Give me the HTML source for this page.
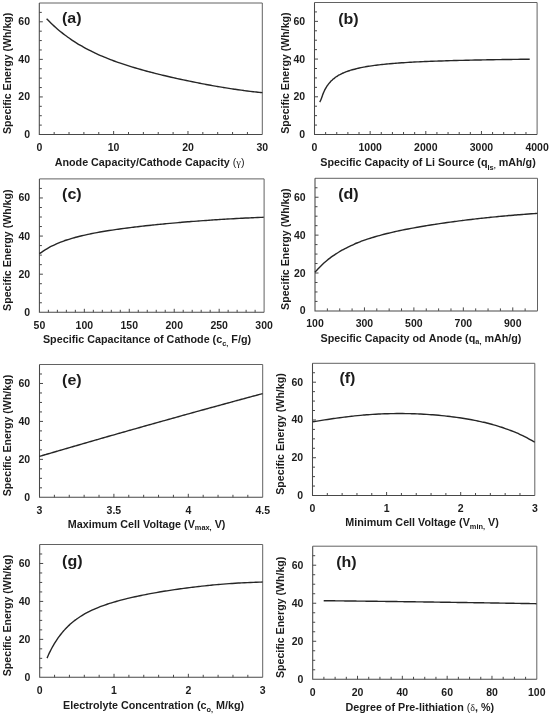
<!DOCTYPE html>
<html><head><meta charset="utf-8"><title>Specific Energy Plots</title>
<style>
html,body{margin:0;padding:0;background:#fff;}
body{width:550px;height:715px;overflow:hidden;}
svg{display:block;will-change:transform;filter:grayscale(1) blur(0.3px);}
.t{font-family:"Liberation Sans",sans-serif;font-weight:bold;font-size:10.75px;fill:#1c1c1c;}
.yl{font-family:"Liberation Sans",sans-serif;font-weight:bold;font-size:10.62px;fill:#1c1c1c;}
.k{font-family:"Liberation Sans",sans-serif;font-weight:bold;font-size:10.5px;fill:#1c1c1c;}
.pl{font-family:"Liberation Sans",sans-serif;font-weight:bold;font-size:15.0px;fill:#1c1c1c;}
.sub{font-size:7.4px;}
.sym{font-family:"Liberation Serif",serif;font-weight:normal;}
</style></head><body>
<svg width="550" height="715" viewBox="0 0 550 715">
<rect width="550" height="715" fill="#fff"/>
<path d="M39.3 3.0H262.3V134.5" fill="none" stroke="#626262" stroke-width="1"/>
<path d="M39.3 3.0V134.5H262.3" fill="none" stroke="#484848" stroke-width="1.05"/>
<path d="M39.3 125.11h2.5M39.3 115.71h2.5M39.3 106.32h2.5M39.3 96.93h3.5M39.3 87.54h2.5M39.3 78.14h2.5M39.3 68.75h2.5M39.3 59.36h3.5M39.3 49.96h2.5M39.3 40.57h2.5M39.3 31.18h2.5M39.3 21.79h3.5M39.3 12.39h2.5M54.17 134.5v-2.5M69.03 134.5v-2.5M83.90 134.5v-2.5M98.77 134.5v-2.5M113.63 134.5v-3.5M128.50 134.5v-2.5M143.37 134.5v-2.5M158.23 134.5v-2.5M173.10 134.5v-2.5M187.97 134.5v-3.5M202.83 134.5v-2.5M217.70 134.5v-2.5M232.57 134.5v-2.5M247.43 134.5v-2.5" fill="none" stroke="#484848" stroke-width="1"/>
<text x="30.00" y="138.00" text-anchor="end" class="k">0</text>
<text x="30.00" y="100.43" text-anchor="end" class="k">20</text>
<text x="30.00" y="62.86" text-anchor="end" class="k">40</text>
<text x="30.00" y="25.29" text-anchor="end" class="k">60</text>
<text x="39.30" y="151.20" text-anchor="middle" class="k">0</text>
<text x="113.63" y="151.20" text-anchor="middle" class="k">10</text>
<text x="187.97" y="151.20" text-anchor="middle" class="k">20</text>
<text x="262.30" y="151.20" text-anchor="middle" class="k">30</text>
<text transform="translate(10.60 73.35) rotate(-90)" text-anchor="middle" class="yl">Specific Energy (Wh/kg)</text>
<text x="149.60" y="166.00" text-anchor="middle" class="t">Anode&#160;Capacity/Cathode&#160;Capacity&#160;<tspan font-weight="normal">(</tspan><tspan class="sym" font-size="10.5px">γ</tspan><tspan font-weight="normal">)</tspan></text>
<text transform="translate(61.90 23.00) scale(1.07 1)" class="pl">(a)</text>
<path d="M46.60 18.72 C47.11 19.24 48.63 20.82 49.64 21.82 C50.65 22.83 51.67 23.81 52.68 24.76 C53.69 25.71 54.71 26.64 55.72 27.54 C56.73 28.44 57.74 29.32 58.76 30.17 C59.77 31.02 60.78 31.85 61.80 32.66 C62.81 33.47 63.82 34.26 64.84 35.03 C65.85 35.80 66.86 36.54 67.88 37.27 C68.89 38.00 69.90 38.71 70.92 39.40 C71.93 40.10 72.94 40.77 73.95 41.43 C74.97 42.09 75.98 42.73 76.99 43.35 C78.01 43.98 79.02 44.59 80.03 45.19 C81.05 45.78 82.06 46.37 83.07 46.93 C84.09 47.50 85.10 48.06 86.11 48.60 C87.13 49.14 88.14 49.67 89.15 50.19 C90.17 50.71 91.18 51.22 92.19 51.71 C93.20 52.21 94.22 52.69 95.23 53.17 C96.24 53.64 97.26 54.10 98.27 54.56 C99.28 55.01 100.30 55.46 101.31 55.89 C102.32 56.33 103.34 56.76 104.35 57.18 C105.36 57.60 106.38 58.01 107.39 58.41 C108.40 58.81 109.42 59.21 110.43 59.60 C111.44 59.99 112.45 60.37 113.47 60.74 C114.48 61.12 115.49 61.48 116.51 61.84 C117.52 62.21 118.53 62.56 119.55 62.91 C120.56 63.26 121.57 63.60 122.59 63.94 C123.60 64.28 124.61 64.61 125.63 64.94 C126.64 65.27 127.65 65.59 128.66 65.91 C129.68 66.23 130.69 66.54 131.70 66.85 C132.72 67.16 133.73 67.47 134.74 67.77 C135.76 68.07 136.77 68.37 137.78 68.66 C138.80 68.95 139.81 69.24 140.82 69.53 C141.84 69.81 142.85 70.09 143.86 70.37 C144.88 70.65 145.89 70.93 146.90 71.20 C147.91 71.47 148.93 71.74 149.94 72.01 C150.95 72.27 151.97 72.54 152.98 72.80 C153.99 73.06 155.01 73.32 156.02 73.57 C157.03 73.83 158.05 74.08 159.06 74.33 C160.07 74.58 161.09 74.83 162.10 75.07 C163.11 75.32 164.12 75.56 165.14 75.80 C166.15 76.04 167.16 76.28 168.18 76.52 C169.19 76.75 170.20 76.99 171.22 77.22 C172.23 77.45 173.24 77.68 174.26 77.91 C175.27 78.14 176.28 78.36 177.30 78.59 C178.31 78.81 179.32 79.03 180.34 79.25 C181.35 79.47 182.36 79.69 183.37 79.91 C184.39 80.12 185.40 80.34 186.41 80.55 C187.43 80.76 188.44 80.97 189.45 81.18 C190.47 81.39 191.48 81.60 192.49 81.80 C193.51 82.01 194.52 82.21 195.53 82.41 C196.55 82.62 197.56 82.81 198.57 83.01 C199.58 83.21 200.60 83.41 201.61 83.60 C202.62 83.80 203.64 83.99 204.65 84.18 C205.66 84.37 206.68 84.56 207.69 84.74 C208.70 84.93 209.72 85.12 210.73 85.30 C211.74 85.48 212.76 85.66 213.77 85.84 C214.78 86.02 215.80 86.20 216.81 86.37 C217.82 86.55 218.83 86.72 219.85 86.89 C220.86 87.06 221.87 87.23 222.89 87.40 C223.90 87.57 224.91 87.73 225.93 87.89 C226.94 88.06 227.95 88.22 228.97 88.37 C229.98 88.53 230.99 88.69 232.01 88.84 C233.02 88.99 234.03 89.15 235.05 89.29 C236.06 89.44 237.07 89.59 238.08 89.73 C239.10 89.88 240.11 90.02 241.12 90.16 C242.14 90.30 243.15 90.43 244.16 90.57 C245.18 90.70 246.19 90.83 247.20 90.96 C248.22 91.09 249.23 91.22 250.24 91.34 C251.26 91.46 252.27 91.58 253.28 91.70 C254.29 91.82 255.31 91.93 256.32 92.04 C257.33 92.15 258.35 92.26 259.36 92.37 C260.37 92.47 261.89 92.62 262.40 92.67" fill="none" stroke="#262626" stroke-width="1.4" stroke-linecap="butt"/>
<path d="M314.5 2.5H537.1V134.5" fill="none" stroke="#626262" stroke-width="1"/>
<path d="M314.5 2.5V134.5H537.1" fill="none" stroke="#484848" stroke-width="1.05"/>
<path d="M314.5 125.07h2.5M314.5 115.64h2.5M314.5 106.21h2.5M314.5 96.79h3.5M314.5 87.36h2.5M314.5 77.93h2.5M314.5 68.50h2.5M314.5 59.07h3.5M314.5 49.64h2.5M314.5 40.21h2.5M314.5 30.79h2.5M314.5 21.36h3.5M314.5 11.93h2.5M325.63 134.5v-2.5M336.76 134.5v-2.5M347.89 134.5v-2.5M359.02 134.5v-2.5M370.15 134.5v-3.5M381.28 134.5v-2.5M392.41 134.5v-2.5M403.54 134.5v-2.5M414.67 134.5v-2.5M425.80 134.5v-3.5M436.93 134.5v-2.5M448.06 134.5v-2.5M459.19 134.5v-2.5M470.32 134.5v-2.5M481.45 134.5v-3.5M492.58 134.5v-2.5M503.71 134.5v-2.5M514.84 134.5v-2.5M525.97 134.5v-2.5" fill="none" stroke="#484848" stroke-width="1"/>
<text x="305.20" y="138.00" text-anchor="end" class="k">0</text>
<text x="305.20" y="100.29" text-anchor="end" class="k">20</text>
<text x="305.20" y="62.57" text-anchor="end" class="k">40</text>
<text x="305.20" y="24.86" text-anchor="end" class="k">60</text>
<text x="314.50" y="151.20" text-anchor="middle" class="k">0</text>
<text x="370.15" y="151.20" text-anchor="middle" class="k">1000</text>
<text x="425.80" y="151.20" text-anchor="middle" class="k">2000</text>
<text x="481.45" y="151.20" text-anchor="middle" class="k">3000</text>
<text x="537.10" y="151.20" text-anchor="middle" class="k">4000</text>
<text transform="translate(289.20 73.10) rotate(-90)" text-anchor="middle" class="yl">Specific Energy (Wh/kg)</text>
<text x="428.00" y="166.00" text-anchor="middle" class="t">Specific&#160;Capacity&#160;of&#160;Li&#160;Source&#160;(q<tspan class="sub" dy="3.7">ls</tspan><tspan class="sub" dy="-1.3">,</tspan><tspan dy="-2.4">&#160;mAh/g)</tspan></text>
<text transform="translate(338.20 24.00) scale(1.07 1)" class="pl">(b)</text>
<path d="M319.80 102.10 C320.05 101.53 320.80 99.92 321.30 98.64 C321.80 97.36 322.54 95.16 322.80 94.44 C323.06 93.72 322.59 94.91 322.84 94.33 C323.09 93.75 323.81 91.98 324.30 90.94 C324.79 89.90 325.54 88.57 325.80 88.07 C326.06 87.57 325.63 88.33 325.88 87.93 C326.13 87.53 326.81 86.39 327.30 85.68 C327.79 84.97 328.53 84.02 328.80 83.65 C329.07 83.29 328.68 83.79 328.93 83.50 C329.18 83.21 329.82 82.43 330.30 81.91 C330.78 81.39 331.52 80.67 331.80 80.39 C332.08 80.11 331.72 80.45 331.97 80.23 C332.22 80.01 332.83 79.44 333.30 79.05 C333.77 78.65 334.51 78.08 334.80 77.86 C335.09 77.63 334.76 77.88 335.01 77.70 C335.26 77.52 335.84 77.10 336.30 76.79 C336.76 76.48 337.51 76.02 337.80 75.83 C338.09 75.64 337.80 75.82 338.05 75.68 C338.30 75.53 338.84 75.21 339.30 74.96 C339.76 74.70 340.50 74.32 340.80 74.16 C341.10 74.00 340.84 74.13 341.09 74.01 C341.34 73.89 341.85 73.64 342.30 73.43 C342.75 73.22 343.49 72.89 343.80 72.76 C344.11 72.62 343.89 72.72 344.14 72.61 C344.39 72.51 344.86 72.31 345.30 72.14 C345.74 71.96 346.49 71.68 346.80 71.56 C347.11 71.44 346.93 71.51 347.18 71.42 C347.43 71.33 347.86 71.18 348.30 71.03 C348.74 70.88 349.48 70.63 349.80 70.53 C350.12 70.42 349.64 70.57 350.22 70.39 C350.80 70.22 352.25 69.78 353.26 69.50 C354.28 69.21 355.29 68.95 356.30 68.70 C357.32 68.46 358.33 68.22 359.35 68.00 C360.36 67.78 361.37 67.57 362.39 67.37 C363.40 67.17 364.42 66.99 365.43 66.81 C366.44 66.63 367.46 66.46 368.47 66.30 C369.49 66.13 370.50 65.98 371.51 65.83 C372.53 65.68 373.54 65.54 374.56 65.41 C375.57 65.27 376.58 65.14 377.60 65.02 C378.61 64.90 379.63 64.78 380.64 64.66 C381.65 64.55 382.67 64.44 383.68 64.34 C384.70 64.23 385.71 64.13 386.72 64.03 C387.74 63.93 388.75 63.84 389.77 63.75 C390.78 63.66 391.79 63.57 392.81 63.49 C393.82 63.40 394.84 63.32 395.85 63.24 C396.86 63.16 397.88 63.09 398.89 63.02 C399.91 62.94 400.92 62.87 401.93 62.80 C402.95 62.73 403.96 62.67 404.98 62.60 C405.99 62.54 407.00 62.48 408.02 62.42 C409.03 62.35 410.05 62.30 411.06 62.24 C412.07 62.18 413.09 62.13 414.10 62.07 C415.12 62.02 416.13 61.97 417.14 61.92 C418.16 61.87 419.17 61.82 420.19 61.77 C421.20 61.72 422.21 61.67 423.23 61.63 C424.24 61.58 425.26 61.54 426.27 61.50 C427.29 61.45 428.30 61.41 429.31 61.37 C430.33 61.33 431.34 61.29 432.36 61.25 C433.37 61.21 434.38 61.17 435.40 61.14 C436.41 61.10 437.43 61.07 438.44 61.03 C439.45 60.99 440.47 60.96 441.48 60.93 C442.50 60.89 443.51 60.86 444.52 60.83 C445.54 60.80 446.55 60.77 447.57 60.74 C448.58 60.71 449.59 60.68 450.61 60.65 C451.62 60.62 452.64 60.59 453.65 60.56 C454.66 60.53 455.68 60.51 456.69 60.48 C457.71 60.45 458.72 60.43 459.73 60.40 C460.75 60.38 461.76 60.35 462.78 60.33 C463.79 60.30 464.80 60.28 465.82 60.25 C466.83 60.23 467.85 60.21 468.86 60.19 C469.87 60.16 470.89 60.14 471.90 60.12 C472.92 60.10 473.93 60.08 474.94 60.05 C475.96 60.03 476.97 60.01 477.99 59.99 C479.00 59.97 480.01 59.95 481.03 59.93 C482.04 59.92 483.06 59.90 484.07 59.88 C485.08 59.86 486.10 59.84 487.11 59.82 C488.13 59.80 489.14 59.79 490.15 59.77 C491.17 59.75 492.18 59.73 493.20 59.72 C494.21 59.70 495.22 59.68 496.24 59.67 C497.25 59.65 498.27 59.64 499.28 59.62 C500.29 59.60 501.31 59.59 502.32 59.57 C503.34 59.56 504.35 59.54 505.36 59.53 C506.38 59.51 507.39 59.50 508.41 59.49 C509.42 59.47 510.43 59.46 511.45 59.44 C512.46 59.43 513.48 59.42 514.49 59.40 C515.50 59.39 516.52 59.38 517.53 59.36 C518.55 59.35 519.56 59.34 520.57 59.32 C521.59 59.31 522.60 59.30 523.62 59.29 C524.63 59.28 525.64 59.26 526.66 59.25 C527.67 59.24 529.19 59.22 529.70 59.22" fill="none" stroke="#262626" stroke-width="1.4" stroke-linecap="butt"/>
<path d="M39.4 178.9H264.1V312.3" fill="none" stroke="#626262" stroke-width="1"/>
<path d="M39.4 178.9V312.3H264.1" fill="none" stroke="#484848" stroke-width="1.05"/>
<path d="M39.4 302.77h2.5M39.4 293.24h2.5M39.4 283.71h2.5M39.4 274.19h3.5M39.4 264.66h2.5M39.4 255.13h2.5M39.4 245.60h2.5M39.4 236.07h3.5M39.4 226.54h2.5M39.4 217.01h2.5M39.4 207.49h2.5M39.4 197.96h3.5M39.4 188.43h2.5M48.39 312.3v-2.5M57.38 312.3v-2.5M66.36 312.3v-2.5M75.35 312.3v-2.5M84.34 312.3v-3.5M93.33 312.3v-2.5M102.32 312.3v-2.5M111.30 312.3v-2.5M120.29 312.3v-2.5M129.28 312.3v-3.5M138.27 312.3v-2.5M147.26 312.3v-2.5M156.24 312.3v-2.5M165.23 312.3v-2.5M174.22 312.3v-3.5M183.21 312.3v-2.5M192.20 312.3v-2.5M201.18 312.3v-2.5M210.17 312.3v-2.5M219.16 312.3v-3.5M228.15 312.3v-2.5M237.14 312.3v-2.5M246.12 312.3v-2.5M255.11 312.3v-2.5" fill="none" stroke="#484848" stroke-width="1"/>
<text x="30.10" y="315.80" text-anchor="end" class="k">0</text>
<text x="30.10" y="277.69" text-anchor="end" class="k">20</text>
<text x="30.10" y="239.57" text-anchor="end" class="k">40</text>
<text x="30.10" y="201.46" text-anchor="end" class="k">60</text>
<text x="39.40" y="328.50" text-anchor="middle" class="k">50</text>
<text x="84.34" y="328.50" text-anchor="middle" class="k">100</text>
<text x="129.28" y="328.50" text-anchor="middle" class="k">150</text>
<text x="174.22" y="328.50" text-anchor="middle" class="k">200</text>
<text x="219.16" y="328.50" text-anchor="middle" class="k">250</text>
<text x="264.10" y="328.50" text-anchor="middle" class="k">300</text>
<text transform="translate(10.80 250.20) rotate(-90)" text-anchor="middle" class="yl">Specific Energy (Wh/kg)</text>
<text x="147.00" y="343.35" text-anchor="middle" class="t">Specific&#160;Capacitance&#160;of&#160;Cathode&#160;(c<tspan class="sub" dy="2.8">c,</tspan><tspan dy="-2.8">&#160;F/g)</tspan></text>
<text transform="translate(62.10 199.00) scale(1.07 1)" class="pl">(c)</text>
<path d="M39.40 253.72 C39.91 253.36 41.42 252.24 42.43 251.55 C43.44 250.87 44.45 250.22 45.46 249.60 C46.47 248.98 47.48 248.40 48.49 247.84 C49.50 247.28 50.51 246.74 51.52 246.23 C52.53 245.72 53.55 245.24 54.56 244.77 C55.57 244.30 56.58 243.86 57.59 243.43 C58.60 243.00 59.61 242.60 60.62 242.20 C61.63 241.81 62.64 241.43 63.65 241.07 C64.66 240.70 65.67 240.36 66.68 240.02 C67.69 239.68 68.70 239.36 69.71 239.05 C70.72 238.73 71.73 238.43 72.74 238.14 C73.75 237.85 74.76 237.57 75.77 237.30 C76.78 237.02 77.79 236.76 78.80 236.50 C79.81 236.25 80.82 236.00 81.84 235.76 C82.85 235.52 83.86 235.28 84.87 235.06 C85.88 234.83 86.89 234.61 87.90 234.39 C88.91 234.18 89.92 233.97 90.93 233.76 C91.94 233.56 92.95 233.36 93.96 233.17 C94.97 232.97 95.98 232.78 96.99 232.60 C98.00 232.41 99.01 232.23 100.02 232.05 C101.03 231.87 102.04 231.70 103.05 231.53 C104.06 231.36 105.07 231.19 106.08 231.03 C107.09 230.86 108.10 230.70 109.11 230.55 C110.13 230.39 111.14 230.23 112.15 230.08 C113.16 229.93 114.17 229.78 115.18 229.63 C116.19 229.49 117.20 229.34 118.21 229.20 C119.22 229.06 120.23 228.92 121.24 228.78 C122.25 228.64 123.26 228.51 124.27 228.38 C125.28 228.24 126.29 228.11 127.30 227.98 C128.31 227.85 129.32 227.72 130.33 227.60 C131.34 227.47 132.35 227.35 133.36 227.22 C134.37 227.10 135.38 226.98 136.39 226.86 C137.40 226.74 138.42 226.62 139.43 226.51 C140.44 226.39 141.45 226.27 142.46 226.16 C143.47 226.05 144.48 225.93 145.49 225.82 C146.50 225.71 147.51 225.60 148.52 225.49 C149.53 225.39 150.54 225.28 151.55 225.17 C152.56 225.07 153.57 224.96 154.58 224.86 C155.59 224.75 156.60 224.65 157.61 224.55 C158.62 224.45 159.63 224.35 160.64 224.25 C161.65 224.15 162.66 224.05 163.67 223.95 C164.68 223.86 165.70 223.76 166.71 223.66 C167.72 223.57 168.73 223.48 169.74 223.38 C170.75 223.29 171.76 223.20 172.77 223.11 C173.78 223.01 174.79 222.92 175.80 222.83 C176.81 222.75 177.82 222.66 178.83 222.57 C179.84 222.48 180.85 222.40 181.86 222.31 C182.87 222.22 183.88 222.14 184.89 222.06 C185.90 221.97 186.91 221.89 187.92 221.81 C188.93 221.73 189.94 221.65 190.95 221.57 C191.96 221.48 192.97 221.41 193.99 221.33 C195.00 221.25 196.01 221.17 197.02 221.09 C198.03 221.02 199.04 220.94 200.05 220.87 C201.06 220.79 202.07 220.72 203.08 220.65 C204.09 220.57 205.10 220.50 206.11 220.43 C207.12 220.36 208.13 220.29 209.14 220.22 C210.15 220.15 211.16 220.08 212.17 220.01 C213.18 219.94 214.19 219.88 215.20 219.81 C216.21 219.74 217.22 219.68 218.23 219.61 C219.24 219.55 220.25 219.48 221.26 219.42 C222.28 219.36 223.29 219.30 224.30 219.23 C225.31 219.17 226.32 219.11 227.33 219.05 C228.34 218.99 229.35 218.93 230.36 218.88 C231.37 218.82 232.38 218.76 233.39 218.71 C234.40 218.65 235.41 218.59 236.42 218.54 C237.43 218.48 238.44 218.43 239.45 218.38 C240.46 218.33 241.47 218.27 242.48 218.22 C243.49 218.17 244.50 218.12 245.51 218.07 C246.52 218.02 247.53 217.97 248.54 217.93 C249.55 217.88 250.57 217.83 251.58 217.78 C252.59 217.74 253.60 217.69 254.61 217.65 C255.62 217.60 256.63 217.56 257.64 217.52 C258.65 217.47 259.66 217.43 260.67 217.39 C261.68 217.35 263.19 217.29 263.70 217.27" fill="none" stroke="#262626" stroke-width="1.4" stroke-linecap="butt"/>
<path d="M315.0 178.3H537.5V310.9" fill="none" stroke="#626262" stroke-width="1"/>
<path d="M315.0 178.3V310.9H537.5" fill="none" stroke="#484848" stroke-width="1.05"/>
<path d="M315.0 301.43h2.5M315.0 291.96h2.5M315.0 282.49h2.5M315.0 273.01h3.5M315.0 263.54h2.5M315.0 254.07h2.5M315.0 244.60h2.5M315.0 235.13h3.5M315.0 225.66h2.5M315.0 216.19h2.5M315.0 206.71h2.5M315.0 197.24h3.5M315.0 187.77h2.5M327.36 310.9v-2.5M339.72 310.9v-2.5M352.08 310.9v-2.5M364.44 310.9v-3.5M376.81 310.9v-2.5M389.17 310.9v-2.5M401.53 310.9v-2.5M413.89 310.9v-3.5M426.25 310.9v-2.5M438.61 310.9v-2.5M450.97 310.9v-2.5M463.33 310.9v-3.5M475.69 310.9v-2.5M488.06 310.9v-2.5M500.42 310.9v-2.5M512.78 310.9v-3.5M525.14 310.9v-2.5" fill="none" stroke="#484848" stroke-width="1"/>
<text x="305.70" y="314.40" text-anchor="end" class="k">0</text>
<text x="305.70" y="276.51" text-anchor="end" class="k">20</text>
<text x="305.70" y="238.63" text-anchor="end" class="k">40</text>
<text x="305.70" y="200.74" text-anchor="end" class="k">60</text>
<text x="315.00" y="326.80" text-anchor="middle" class="k">100</text>
<text x="364.44" y="326.80" text-anchor="middle" class="k">300</text>
<text x="413.89" y="326.80" text-anchor="middle" class="k">500</text>
<text x="463.33" y="326.80" text-anchor="middle" class="k">700</text>
<text x="512.78" y="326.80" text-anchor="middle" class="k">900</text>
<text transform="translate(289.40 249.20) rotate(-90)" text-anchor="middle" class="yl">Specific Energy (Wh/kg)</text>
<text x="421.00" y="342.10" text-anchor="middle" class="t">Specific&#160;Capacity&#160;od&#160;Anode&#160;(q<tspan class="sub" dy="2.0">a,</tspan><tspan dy="-2.0">&#160;mAh/g)</tspan></text>
<text transform="translate(338.20 199.00) scale(1.07 1)" class="pl">(d)</text>
<path d="M314.90 272.26 C315.40 271.70 316.90 269.99 317.91 268.93 C318.91 267.87 319.91 266.85 320.91 265.88 C321.92 264.90 322.92 263.97 323.92 263.07 C324.92 262.18 325.92 261.32 326.93 260.49 C327.93 259.67 328.93 258.87 329.93 258.11 C330.94 257.35 331.94 256.62 332.94 255.91 C333.94 255.20 334.95 254.53 335.95 253.87 C336.95 253.22 337.95 252.59 338.95 251.98 C339.96 251.37 340.96 250.79 341.96 250.22 C342.96 249.65 343.97 249.11 344.97 248.58 C345.97 248.05 346.97 247.55 347.97 247.05 C348.98 246.56 349.98 246.08 350.98 245.62 C351.98 245.16 352.99 244.71 353.99 244.28 C354.99 243.84 355.99 243.42 356.99 243.02 C358.00 242.61 359.00 242.21 360.00 241.83 C361.00 241.44 362.01 241.07 363.01 240.71 C364.01 240.34 365.01 239.99 366.01 239.65 C367.02 239.30 368.02 238.97 369.02 238.64 C370.02 238.32 371.03 238.00 372.03 237.69 C373.03 237.38 374.03 237.08 375.04 236.78 C376.04 236.49 377.04 236.20 378.04 235.92 C379.04 235.64 380.05 235.36 381.05 235.09 C382.05 234.82 383.05 234.56 384.06 234.30 C385.06 234.04 386.06 233.79 387.06 233.54 C388.06 233.30 389.07 233.05 390.07 232.82 C391.07 232.58 392.07 232.34 393.08 232.11 C394.08 231.89 395.08 231.66 396.08 231.44 C397.08 231.22 398.09 231.00 399.09 230.79 C400.09 230.58 401.09 230.37 402.10 230.16 C403.10 229.95 404.10 229.75 405.10 229.55 C406.10 229.35 407.11 229.15 408.11 228.96 C409.11 228.77 410.11 228.58 411.12 228.39 C412.12 228.20 413.12 228.01 414.12 227.83 C415.13 227.65 416.13 227.47 417.13 227.29 C418.13 227.11 419.13 226.94 420.14 226.76 C421.14 226.59 422.14 226.42 423.14 226.25 C424.15 226.08 425.15 225.91 426.15 225.75 C427.15 225.58 428.15 225.42 429.16 225.26 C430.16 225.10 431.16 224.94 432.16 224.78 C433.17 224.63 434.17 224.47 435.17 224.32 C436.17 224.16 437.17 224.01 438.18 223.86 C439.18 223.71 440.18 223.56 441.18 223.42 C442.19 223.27 443.19 223.12 444.19 222.98 C445.19 222.84 446.20 222.69 447.20 222.55 C448.20 222.41 449.20 222.27 450.20 222.14 C451.21 222.00 452.21 221.86 453.21 221.73 C454.21 221.59 455.22 221.46 456.22 221.33 C457.22 221.19 458.22 221.06 459.22 220.93 C460.23 220.80 461.23 220.68 462.23 220.55 C463.23 220.42 464.24 220.30 465.24 220.17 C466.24 220.05 467.24 219.93 468.24 219.80 C469.25 219.68 470.25 219.56 471.25 219.44 C472.25 219.32 473.26 219.21 474.26 219.09 C475.26 218.97 476.26 218.86 477.26 218.74 C478.27 218.63 479.27 218.52 480.27 218.41 C481.27 218.30 482.28 218.19 483.28 218.08 C484.28 217.97 485.28 217.86 486.29 217.75 C487.29 217.65 488.29 217.54 489.29 217.44 C490.29 217.33 491.30 217.23 492.30 217.13 C493.30 217.03 494.30 216.93 495.31 216.83 C496.31 216.73 497.31 216.63 498.31 216.53 C499.31 216.44 500.32 216.34 501.32 216.25 C502.32 216.15 503.32 216.06 504.33 215.97 C505.33 215.88 506.33 215.79 507.33 215.70 C508.33 215.61 509.34 215.52 510.34 215.44 C511.34 215.35 512.34 215.26 513.35 215.18 C514.35 215.10 515.35 215.01 516.35 214.93 C517.35 214.85 518.36 214.77 519.36 214.69 C520.36 214.61 521.36 214.53 522.37 214.46 C523.37 214.38 524.37 214.31 525.37 214.23 C526.38 214.16 527.38 214.08 528.38 214.01 C529.38 213.94 530.38 213.87 531.39 213.80 C532.39 213.74 533.39 213.67 534.39 213.60 C535.40 213.54 536.90 213.44 537.40 213.41" fill="none" stroke="#262626" stroke-width="1.4" stroke-linecap="butt"/>
<path d="M39.5 364.5H262.7V497.3" fill="none" stroke="#626262" stroke-width="1"/>
<path d="M39.5 364.5V497.3H262.7" fill="none" stroke="#484848" stroke-width="1.05"/>
<path d="M39.5 487.81h2.5M39.5 478.33h2.5M39.5 468.84h2.5M39.5 459.36h3.5M39.5 449.87h2.5M39.5 440.39h2.5M39.5 430.90h2.5M39.5 421.41h3.5M39.5 411.93h2.5M39.5 402.44h2.5M39.5 392.96h2.5M39.5 383.47h3.5M39.5 373.99h2.5M54.38 497.3v-2.5M69.26 497.3v-2.5M84.14 497.3v-2.5M99.02 497.3v-2.5M113.90 497.3v-3.5M128.78 497.3v-2.5M143.66 497.3v-2.5M158.54 497.3v-2.5M173.42 497.3v-2.5M188.30 497.3v-3.5M203.18 497.3v-2.5M218.06 497.3v-2.5M232.94 497.3v-2.5M247.82 497.3v-2.5" fill="none" stroke="#484848" stroke-width="1"/>
<text x="30.20" y="500.80" text-anchor="end" class="k">0</text>
<text x="30.20" y="462.86" text-anchor="end" class="k">20</text>
<text x="30.20" y="424.91" text-anchor="end" class="k">40</text>
<text x="30.20" y="386.97" text-anchor="end" class="k">60</text>
<text x="39.50" y="513.50" text-anchor="middle" class="k">3</text>
<text x="113.90" y="513.50" text-anchor="middle" class="k">3.5</text>
<text x="188.30" y="513.50" text-anchor="middle" class="k">4</text>
<text x="262.70" y="513.50" text-anchor="middle" class="k">4.5</text>
<text transform="translate(10.90 435.50) rotate(-90)" text-anchor="middle" class="yl">Specific Energy (Wh/kg)</text>
<text x="146.60" y="528.25" text-anchor="middle" class="t">Maximum&#160;Cell&#160;Voltage&#160;(V<tspan class="sub" dy="2.0">max,</tspan><tspan dy="-2.0">&#160;V)</tspan></text>
<text transform="translate(62.10 384.60) scale(1.07 1)" class="pl">(e)</text>
<path d="M39.40 456.40 C39.90 456.25 41.41 455.81 42.42 455.51 C43.42 455.22 44.43 454.92 45.44 454.63 C46.44 454.33 47.45 454.04 48.45 453.75 C49.46 453.45 50.46 453.16 51.47 452.86 C52.48 452.57 53.48 452.28 54.49 451.98 C55.49 451.69 56.50 451.39 57.51 451.10 C58.51 450.81 59.52 450.51 60.52 450.22 C61.53 449.93 62.53 449.64 63.54 449.34 C64.55 449.05 65.55 448.76 66.56 448.47 C67.56 448.17 68.57 447.88 69.58 447.59 C70.58 447.30 71.59 447.00 72.59 446.71 C73.60 446.42 74.60 446.13 75.61 445.84 C76.62 445.55 77.62 445.26 78.63 444.96 C79.63 444.67 80.64 444.38 81.65 444.09 C82.65 443.80 83.66 443.51 84.66 443.22 C85.67 442.93 86.68 442.64 87.68 442.35 C88.69 442.06 89.69 441.77 90.70 441.48 C91.70 441.19 92.71 440.90 93.72 440.61 C94.72 440.32 95.73 440.03 96.73 439.74 C97.74 439.46 98.75 439.17 99.75 438.88 C100.76 438.59 101.76 438.30 102.77 438.01 C103.77 437.72 104.78 437.44 105.79 437.15 C106.79 436.86 107.80 436.57 108.80 436.29 C109.81 436.00 110.82 435.71 111.82 435.42 C112.83 435.14 113.83 434.85 114.84 434.56 C115.85 434.27 116.85 433.99 117.86 433.70 C118.86 433.41 119.87 433.13 120.87 432.84 C121.88 432.56 122.89 432.27 123.89 431.98 C124.90 431.70 125.90 431.41 126.91 431.13 C127.92 430.84 128.92 430.56 129.93 430.27 C130.93 429.98 131.94 429.70 132.94 429.41 C133.95 429.13 134.96 428.85 135.96 428.56 C136.97 428.28 137.97 427.99 138.98 427.71 C139.99 427.42 140.99 427.14 142.00 426.86 C143.00 426.57 144.01 426.29 145.01 426.00 C146.02 425.72 147.03 425.44 148.03 425.15 C149.04 424.87 150.04 424.59 151.05 424.30 C152.06 424.02 153.06 423.74 154.07 423.46 C155.07 423.17 156.08 422.89 157.09 422.61 C158.09 422.33 159.10 422.05 160.10 421.76 C161.11 421.48 162.11 421.20 163.12 420.92 C164.13 420.64 165.13 420.36 166.14 420.07 C167.14 419.79 168.15 419.51 169.16 419.23 C170.16 418.95 171.17 418.67 172.17 418.39 C173.18 418.11 174.18 417.83 175.19 417.55 C176.20 417.27 177.20 416.99 178.21 416.71 C179.21 416.43 180.22 416.15 181.23 415.87 C182.23 415.59 183.24 415.31 184.24 415.03 C185.25 414.75 186.25 414.47 187.26 414.19 C188.27 413.92 189.27 413.64 190.28 413.36 C191.28 413.08 192.29 412.80 193.30 412.52 C194.30 412.24 195.31 411.97 196.31 411.69 C197.32 411.41 198.33 411.13 199.33 410.86 C200.34 410.58 201.34 410.30 202.35 410.02 C203.35 409.75 204.36 409.47 205.37 409.19 C206.37 408.92 207.38 408.64 208.38 408.36 C209.39 408.09 210.40 407.81 211.40 407.53 C212.41 407.26 213.41 406.98 214.42 406.71 C215.42 406.43 216.43 406.16 217.44 405.88 C218.44 405.60 219.45 405.33 220.45 405.05 C221.46 404.78 222.47 404.50 223.47 404.23 C224.48 403.95 225.48 403.68 226.49 403.41 C227.50 403.13 228.50 402.86 229.51 402.58 C230.51 402.31 231.52 402.04 232.52 401.76 C233.53 401.49 234.54 401.21 235.54 400.94 C236.55 400.67 237.55 400.39 238.56 400.12 C239.57 399.85 240.57 399.58 241.58 399.30 C242.58 399.03 243.59 398.76 244.59 398.48 C245.60 398.21 246.61 397.94 247.61 397.67 C248.62 397.40 249.62 397.12 250.63 396.85 C251.64 396.58 252.64 396.31 253.65 396.04 C254.65 395.77 255.66 395.50 256.66 395.22 C257.67 394.95 258.68 394.68 259.68 394.41 C260.69 394.14 262.20 393.74 262.70 393.60" fill="none" stroke="#262626" stroke-width="1.4" stroke-linecap="butt"/>
<path d="M312.5 363.3H534.8V495.5" fill="none" stroke="#626262" stroke-width="1"/>
<path d="M312.5 363.3V495.5H534.8" fill="none" stroke="#484848" stroke-width="1.05"/>
<path d="M312.5 486.06h2.5M312.5 476.61h2.5M312.5 467.17h2.5M312.5 457.73h3.5M312.5 448.29h2.5M312.5 438.84h2.5M312.5 429.40h2.5M312.5 419.96h3.5M312.5 410.51h2.5M312.5 401.07h2.5M312.5 391.63h2.5M312.5 382.19h3.5M312.5 372.74h2.5M327.32 495.5v-2.5M342.14 495.5v-2.5M356.96 495.5v-2.5M371.78 495.5v-2.5M386.60 495.5v-3.5M401.42 495.5v-2.5M416.24 495.5v-2.5M431.06 495.5v-2.5M445.88 495.5v-2.5M460.70 495.5v-3.5M475.52 495.5v-2.5M490.34 495.5v-2.5M505.16 495.5v-2.5M519.98 495.5v-2.5" fill="none" stroke="#484848" stroke-width="1"/>
<text x="303.20" y="499.00" text-anchor="end" class="k">0</text>
<text x="303.20" y="461.23" text-anchor="end" class="k">20</text>
<text x="303.20" y="423.46" text-anchor="end" class="k">40</text>
<text x="303.20" y="385.69" text-anchor="end" class="k">60</text>
<text x="312.50" y="511.90" text-anchor="middle" class="k">0</text>
<text x="386.60" y="511.90" text-anchor="middle" class="k">1</text>
<text x="460.70" y="511.90" text-anchor="middle" class="k">2</text>
<text x="534.80" y="511.90" text-anchor="middle" class="k">3</text>
<text transform="translate(283.80 434.00) rotate(-90)" text-anchor="middle" class="yl">Specific Energy (Wh/kg)</text>
<text x="422.00" y="526.45" text-anchor="middle" class="t">Minimum&#160;Cell&#160;Voltage&#160;(V<tspan class="sub" dy="2.7">min,</tspan><tspan dy="-2.7">&#160;V)</tspan></text>
<text transform="translate(339.40 383.00) scale(1.07 1)" class="pl">(f)</text>
<path d="M312.60 421.81 C313.10 421.73 314.60 421.49 315.60 421.33 C316.60 421.16 317.60 421.00 318.60 420.84 C319.60 420.68 320.60 420.53 321.60 420.37 C322.60 420.21 323.60 420.05 324.61 419.90 C325.61 419.74 326.61 419.59 327.61 419.44 C328.61 419.29 329.61 419.14 330.61 418.99 C331.61 418.84 332.61 418.70 333.61 418.55 C334.61 418.41 335.61 418.27 336.61 418.13 C337.61 417.99 338.61 417.85 339.61 417.72 C340.61 417.58 341.61 417.45 342.61 417.32 C343.61 417.19 344.61 417.07 345.61 416.94 C346.62 416.82 347.62 416.70 348.62 416.58 C349.62 416.46 350.62 416.35 351.62 416.24 C352.62 416.13 353.62 416.02 354.62 415.91 C355.62 415.81 356.62 415.71 357.62 415.61 C358.62 415.51 359.62 415.42 360.62 415.33 C361.62 415.23 362.62 415.15 363.62 415.06 C364.62 414.98 365.62 414.89 366.62 414.82 C367.62 414.74 368.63 414.66 369.63 414.59 C370.63 414.52 371.63 414.45 372.63 414.39 C373.63 414.33 374.63 414.27 375.63 414.21 C376.63 414.15 377.63 414.10 378.63 414.05 C379.63 414.00 380.63 413.96 381.63 413.91 C382.63 413.87 383.63 413.83 384.63 413.80 C385.63 413.76 386.63 413.73 387.63 413.70 C388.63 413.67 389.63 413.65 390.64 413.63 C391.64 413.61 392.64 413.59 393.64 413.58 C394.64 413.56 395.64 413.55 396.64 413.54 C397.64 413.54 398.64 413.53 399.64 413.53 C400.64 413.53 401.64 413.54 402.64 413.55 C403.64 413.55 404.64 413.56 405.64 413.58 C406.64 413.59 407.64 413.61 408.64 413.63 C409.64 413.65 410.64 413.68 411.64 413.70 C412.65 413.73 413.65 413.76 414.65 413.80 C415.65 413.83 416.65 413.87 417.65 413.91 C418.65 413.96 419.65 414.00 420.65 414.05 C421.65 414.10 422.65 414.15 423.65 414.21 C424.65 414.26 425.65 414.32 426.65 414.39 C427.65 414.45 428.65 414.51 429.65 414.58 C430.65 414.65 431.65 414.73 432.65 414.80 C433.65 414.88 434.65 414.96 435.66 415.04 C436.66 415.13 437.66 415.22 438.66 415.31 C439.66 415.40 440.66 415.49 441.66 415.59 C442.66 415.69 443.66 415.79 444.66 415.90 C445.66 416.00 446.66 416.11 447.66 416.23 C448.66 416.34 449.66 416.46 450.66 416.58 C451.66 416.70 452.66 416.83 453.66 416.96 C454.66 417.09 455.66 417.22 456.66 417.36 C457.67 417.50 458.67 417.64 459.67 417.79 C460.67 417.94 461.67 418.09 462.67 418.24 C463.67 418.40 464.67 418.56 465.67 418.73 C466.67 418.89 467.67 419.06 468.67 419.24 C469.67 419.41 470.67 419.59 471.67 419.78 C472.67 419.97 473.67 420.16 474.67 420.36 C475.67 420.55 476.67 420.75 477.67 420.96 C478.67 421.17 479.68 421.39 480.68 421.61 C481.68 421.83 482.68 422.05 483.68 422.29 C484.68 422.52 485.68 422.76 486.68 423.01 C487.68 423.25 488.68 423.51 489.68 423.77 C490.68 424.03 491.68 424.30 492.68 424.57 C493.68 424.85 494.68 425.13 495.68 425.42 C496.68 425.72 497.68 426.02 498.68 426.33 C499.68 426.63 500.68 426.95 501.69 427.28 C502.69 427.60 503.69 427.94 504.69 428.29 C505.69 428.63 506.69 428.99 507.69 429.35 C508.69 429.72 509.69 430.09 510.69 430.48 C511.69 430.87 512.69 431.27 513.69 431.68 C514.69 432.08 515.69 432.51 516.69 432.94 C517.69 433.37 518.69 433.82 519.69 434.28 C520.69 434.74 521.69 435.21 522.69 435.69 C523.70 436.18 524.70 436.68 525.70 437.19 C526.70 437.70 527.70 438.23 528.70 438.78 C529.70 439.32 530.70 439.88 531.70 440.45 C532.70 441.03 534.20 441.93 534.70 442.23" fill="none" stroke="#262626" stroke-width="1.4" stroke-linecap="butt"/>
<path d="M39.7 544.5H262.7V677.3" fill="none" stroke="#626262" stroke-width="1"/>
<path d="M39.7 544.5V677.3H262.7" fill="none" stroke="#484848" stroke-width="1.05"/>
<path d="M39.7 667.81h2.5M39.7 658.33h2.5M39.7 648.84h2.5M39.7 639.36h3.5M39.7 629.87h2.5M39.7 620.39h2.5M39.7 610.90h2.5M39.7 601.41h3.5M39.7 591.93h2.5M39.7 582.44h2.5M39.7 572.96h2.5M39.7 563.47h3.5M39.7 553.99h2.5M54.57 677.3v-2.5M69.43 677.3v-2.5M84.30 677.3v-2.5M99.17 677.3v-2.5M114.03 677.3v-3.5M128.90 677.3v-2.5M143.77 677.3v-2.5M158.63 677.3v-2.5M173.50 677.3v-2.5M188.37 677.3v-3.5M203.23 677.3v-2.5M218.10 677.3v-2.5M232.97 677.3v-2.5M247.83 677.3v-2.5" fill="none" stroke="#484848" stroke-width="1"/>
<text x="30.40" y="680.80" text-anchor="end" class="k">0</text>
<text x="30.40" y="642.86" text-anchor="end" class="k">20</text>
<text x="30.40" y="604.91" text-anchor="end" class="k">40</text>
<text x="30.40" y="566.97" text-anchor="end" class="k">60</text>
<text x="39.70" y="693.90" text-anchor="middle" class="k">0</text>
<text x="114.03" y="693.90" text-anchor="middle" class="k">1</text>
<text x="188.37" y="693.90" text-anchor="middle" class="k">2</text>
<text x="262.70" y="693.90" text-anchor="middle" class="k">3</text>
<text transform="translate(10.90 615.50) rotate(-90)" text-anchor="middle" class="yl">Specific Energy (Wh/kg)</text>
<text x="153.60" y="708.60" text-anchor="middle" class="t">Electrolyte&#160;Concentration&#160;(c<tspan class="sub" dy="3.0">o,</tspan><tspan dy="-3.0">&#160;M/kg)</tspan></text>
<text transform="translate(62.10 565.50) scale(1.07 1)" class="pl">(g)</text>
<path d="M47.00 658.12 C47.25 657.56 48.00 655.86 48.50 654.78 C49.00 653.70 49.74 652.19 50.00 651.66 C50.26 651.13 49.79 652.07 50.04 651.59 C50.29 651.10 51.01 649.68 51.50 648.75 C51.99 647.82 52.74 646.49 53.00 646.02 C53.26 645.54 52.82 646.32 53.07 645.89 C53.32 645.46 54.01 644.27 54.50 643.46 C54.99 642.66 55.73 641.49 56.00 641.06 C56.27 640.64 55.86 641.27 56.11 640.89 C56.36 640.52 57.02 639.51 57.50 638.81 C57.98 638.11 58.73 637.08 59.00 636.69 C59.27 636.31 58.90 636.83 59.15 636.49 C59.40 636.16 60.02 635.31 60.50 634.70 C60.98 634.09 61.72 633.17 62.00 632.82 C62.28 632.47 61.93 632.90 62.18 632.60 C62.43 632.31 63.03 631.59 63.50 631.05 C63.97 630.52 64.71 629.70 65.00 629.38 C65.29 629.06 64.97 629.41 65.22 629.14 C65.47 628.88 66.04 628.27 66.50 627.80 C66.96 627.33 67.71 626.60 68.00 626.30 C68.29 626.01 68.01 626.29 68.26 626.06 C68.51 625.82 69.04 625.31 69.50 624.89 C69.96 624.47 70.70 623.81 71.00 623.55 C71.30 623.28 71.04 623.50 71.29 623.29 C71.54 623.08 72.05 622.64 72.50 622.27 C72.95 621.90 73.70 621.30 74.00 621.06 C74.30 620.81 74.08 620.99 74.33 620.80 C74.58 620.61 75.05 620.24 75.50 619.91 C75.95 619.58 76.69 619.04 77.00 618.81 C77.31 618.58 76.80 618.93 77.37 618.55 C77.93 618.17 79.39 617.16 80.40 616.51 C81.42 615.86 82.43 615.24 83.44 614.64 C84.45 614.05 85.46 613.48 86.48 612.94 C87.49 612.39 88.50 611.87 89.51 611.37 C90.52 610.86 91.54 610.38 92.55 609.92 C93.56 609.45 94.57 609.01 95.59 608.57 C96.60 608.14 97.61 607.73 98.62 607.32 C99.63 606.92 100.65 606.53 101.66 606.16 C102.67 605.78 103.68 605.41 104.70 605.06 C105.71 604.71 106.72 604.36 107.73 604.03 C108.74 603.69 109.76 603.37 110.77 603.05 C111.78 602.74 112.79 602.43 113.81 602.13 C114.82 601.83 115.83 601.54 116.84 601.26 C117.85 600.97 118.87 600.69 119.88 600.42 C120.89 600.15 121.90 599.88 122.92 599.62 C123.93 599.36 124.94 599.11 125.95 598.86 C126.96 598.61 127.98 598.36 128.99 598.13 C130.00 597.89 131.01 597.65 132.03 597.42 C133.04 597.19 134.05 596.96 135.06 596.74 C136.07 596.52 137.09 596.30 138.10 596.09 C139.11 595.87 140.12 595.66 141.14 595.45 C142.15 595.25 143.16 595.04 144.17 594.84 C145.18 594.64 146.20 594.44 147.21 594.25 C148.22 594.05 149.23 593.86 150.25 593.67 C151.26 593.49 152.27 593.30 153.28 593.12 C154.29 592.93 155.31 592.75 156.32 592.58 C157.33 592.40 158.34 592.22 159.35 592.05 C160.37 591.88 161.38 591.71 162.39 591.54 C163.40 591.37 164.42 591.21 165.43 591.05 C166.44 590.88 167.45 590.72 168.46 590.57 C169.48 590.41 170.49 590.25 171.50 590.10 C172.51 589.95 173.53 589.80 174.54 589.65 C175.55 589.50 176.56 589.35 177.57 589.21 C178.59 589.06 179.60 588.92 180.61 588.78 C181.62 588.64 182.64 588.50 183.65 588.37 C184.66 588.23 185.67 588.10 186.68 587.97 C187.70 587.83 188.71 587.71 189.72 587.58 C190.73 587.45 191.75 587.33 192.76 587.20 C193.77 587.08 194.78 586.96 195.79 586.84 C196.81 586.72 197.82 586.60 198.83 586.49 C199.84 586.37 200.86 586.26 201.87 586.15 C202.88 586.04 203.89 585.93 204.90 585.83 C205.92 585.72 206.93 585.61 207.94 585.51 C208.95 585.41 209.97 585.31 210.98 585.21 C211.99 585.11 213.00 585.02 214.01 584.92 C215.03 584.83 216.04 584.74 217.05 584.65 C218.06 584.56 219.08 584.47 220.09 584.38 C221.10 584.30 222.11 584.22 223.12 584.13 C224.14 584.05 225.15 583.97 226.16 583.90 C227.17 583.82 228.18 583.74 229.20 583.67 C230.21 583.60 231.22 583.53 232.23 583.46 C233.25 583.39 234.26 583.32 235.27 583.26 C236.28 583.20 237.29 583.13 238.31 583.07 C239.32 583.01 240.33 582.96 241.34 582.90 C242.36 582.84 243.37 582.79 244.38 582.74 C245.39 582.69 246.40 582.64 247.42 582.59 C248.43 582.54 249.44 582.50 250.45 582.46 C251.47 582.41 252.48 582.37 253.49 582.33 C254.50 582.30 255.51 582.26 256.53 582.23 C257.54 582.19 258.55 582.16 259.56 582.13 C260.58 582.10 262.09 582.06 262.60 582.05" fill="none" stroke="#262626" stroke-width="1.4" stroke-linecap="butt"/>
<path d="M312.7 546.2H536.8V679.3" fill="none" stroke="#626262" stroke-width="1"/>
<path d="M312.7 546.2V679.3H536.8" fill="none" stroke="#484848" stroke-width="1.05"/>
<path d="M312.7 669.79h2.5M312.7 660.29h2.5M312.7 650.78h2.5M312.7 641.27h3.5M312.7 631.76h2.5M312.7 622.26h2.5M312.7 612.75h2.5M312.7 603.24h3.5M312.7 593.74h2.5M312.7 584.23h2.5M312.7 574.72h2.5M312.7 565.21h3.5M312.7 555.71h2.5M323.90 679.3v-2.5M335.11 679.3v-2.5M346.31 679.3v-2.5M357.52 679.3v-3.5M368.72 679.3v-2.5M379.93 679.3v-2.5M391.13 679.3v-2.5M402.34 679.3v-3.5M413.54 679.3v-2.5M424.75 679.3v-2.5M435.95 679.3v-2.5M447.16 679.3v-3.5M458.37 679.3v-2.5M469.57 679.3v-2.5M480.77 679.3v-2.5M491.98 679.3v-3.5M503.18 679.3v-2.5M514.39 679.3v-2.5M525.59 679.3v-2.5" fill="none" stroke="#484848" stroke-width="1"/>
<text x="303.40" y="682.80" text-anchor="end" class="k">0</text>
<text x="303.40" y="644.77" text-anchor="end" class="k">20</text>
<text x="303.40" y="606.74" text-anchor="end" class="k">40</text>
<text x="303.40" y="568.71" text-anchor="end" class="k">60</text>
<text x="312.70" y="695.80" text-anchor="middle" class="k">0</text>
<text x="357.52" y="695.80" text-anchor="middle" class="k">20</text>
<text x="402.34" y="695.80" text-anchor="middle" class="k">40</text>
<text x="447.16" y="695.80" text-anchor="middle" class="k">60</text>
<text x="491.98" y="695.80" text-anchor="middle" class="k">80</text>
<text x="536.80" y="695.80" text-anchor="middle" class="k">100</text>
<text transform="translate(283.80 617.35) rotate(-90)" text-anchor="middle" class="yl">Specific Energy (Wh/kg)</text>
<text x="419.80" y="710.75" text-anchor="middle" class="t">Degree&#160;of&#160;Pre-lithiation&#160;<tspan font-weight="normal">(</tspan><tspan class="sym" font-size="10.0px">δ</tspan>,&#160;%)</text>
<text transform="translate(336.20 566.50) scale(1.07 1)" class="pl">(h)</text>
<path d="M323.70 600.70 C324.21 600.71 325.73 600.72 326.74 600.73 C327.75 600.74 328.77 600.76 329.78 600.77 C330.79 600.78 331.81 600.79 332.82 600.80 C333.83 600.81 334.85 600.82 335.86 600.83 C336.87 600.85 337.89 600.86 338.90 600.87 C339.91 600.88 340.93 600.89 341.94 600.90 C342.95 600.92 343.97 600.93 344.98 600.94 C345.99 600.95 347.01 600.96 348.02 600.97 C349.03 600.99 350.05 601.00 351.06 601.01 C352.07 601.02 353.09 601.03 354.10 601.05 C355.11 601.06 356.13 601.07 357.14 601.08 C358.15 601.09 359.17 601.11 360.18 601.12 C361.19 601.13 362.21 601.14 363.22 601.15 C364.23 601.17 365.25 601.18 366.26 601.19 C367.27 601.20 368.29 601.22 369.30 601.23 C370.31 601.24 371.33 601.25 372.34 601.27 C373.35 601.28 374.37 601.29 375.38 601.30 C376.39 601.32 377.41 601.33 378.42 601.34 C379.43 601.35 380.45 601.37 381.46 601.38 C382.47 601.39 383.49 601.41 384.50 601.42 C385.51 601.43 386.53 601.44 387.54 601.46 C388.55 601.47 389.57 601.48 390.58 601.50 C391.59 601.51 392.61 601.52 393.62 601.54 C394.63 601.55 395.65 601.56 396.66 601.57 C397.67 601.59 398.69 601.60 399.70 601.61 C400.71 601.63 401.73 601.64 402.74 601.66 C403.75 601.67 404.77 601.68 405.78 601.70 C406.79 601.71 407.81 601.72 408.82 601.74 C409.83 601.75 410.85 601.76 411.86 601.78 C412.87 601.79 413.89 601.80 414.90 601.82 C415.91 601.83 416.93 601.85 417.94 601.86 C418.95 601.87 419.97 601.89 420.98 601.90 C421.99 601.92 423.01 601.93 424.02 601.94 C425.03 601.96 426.05 601.97 427.06 601.99 C428.07 602.00 429.09 602.02 430.10 602.03 C431.11 602.04 432.13 602.06 433.14 602.07 C434.15 602.09 435.17 602.10 436.18 602.12 C437.19 602.13 438.21 602.14 439.22 602.16 C440.23 602.17 441.25 602.19 442.26 602.20 C443.27 602.22 444.29 602.23 445.30 602.25 C446.31 602.26 447.33 602.28 448.34 602.29 C449.35 602.31 450.37 602.32 451.38 602.34 C452.39 602.35 453.41 602.37 454.42 602.38 C455.43 602.40 456.45 602.41 457.46 602.43 C458.47 602.44 459.49 602.46 460.50 602.47 C461.51 602.49 462.53 602.50 463.54 602.52 C464.55 602.53 465.57 602.55 466.58 602.56 C467.59 602.58 468.61 602.59 469.62 602.61 C470.63 602.63 471.65 602.64 472.66 602.66 C473.67 602.67 474.69 602.69 475.70 602.70 C476.71 602.72 477.73 602.74 478.74 602.75 C479.75 602.77 480.77 602.78 481.78 602.80 C482.79 602.81 483.81 602.83 484.82 602.85 C485.83 602.86 486.85 602.88 487.86 602.89 C488.87 602.91 489.89 602.93 490.90 602.94 C491.91 602.96 492.93 602.97 493.94 602.99 C494.95 603.01 495.97 603.02 496.98 603.04 C497.99 603.06 499.01 603.07 500.02 603.09 C501.03 603.11 502.05 603.12 503.06 603.14 C504.07 603.15 505.09 603.17 506.10 603.19 C507.11 603.20 508.13 603.22 509.14 603.24 C510.15 603.25 511.17 603.27 512.18 603.29 C513.19 603.30 514.21 603.32 515.22 603.34 C516.23 603.36 517.25 603.37 518.26 603.39 C519.27 603.41 520.29 603.42 521.30 603.44 C522.31 603.46 523.33 603.47 524.34 603.49 C525.35 603.51 526.37 603.53 527.38 603.54 C528.39 603.56 529.41 603.58 530.42 603.60 C531.43 603.61 532.45 603.63 533.46 603.65 C534.47 603.66 535.99 603.69 536.50 603.70" fill="none" stroke="#262626" stroke-width="1.4" stroke-linecap="butt"/>
</svg>
</body></html>
